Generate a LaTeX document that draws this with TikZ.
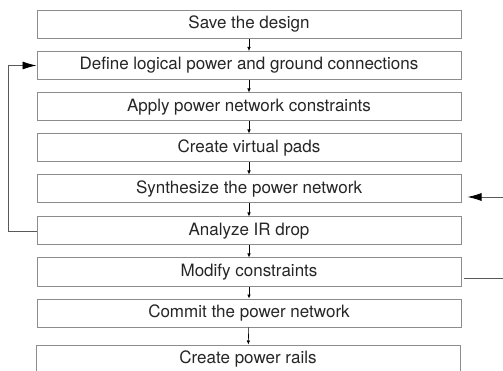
\documentclass[tikz,border=0pt]{standalone}
\usepackage{fontspec}
\setmainfont{TeX Gyre Heros}
\usepackage{tikz}
\usetikzlibrary{calc,arrows.meta}

\begin{document}
\begin{tikzpicture}[x=1pt,y=-1pt]
                      \tikzstyle{stepbox}=[draw=black!45,line width=1pt,fill=white,minimum width=424pt,minimum height=28pt,inner sep=0pt,text=black!85,font=\fontsize{17}{19}\selectfont]
                      \tikzstyle{flow}=[black,line width=0.6pt,-{Latex[length=4pt,width=3.5pt]}]
                      \tikzstyle{loop}=[black!65,line width=0.8pt]
                      \tikzstyle{bigtip}=[-{Latex[black,length=14pt,width=8pt]}]
                      \useasboundingbox (0,0) rectangle (503,371);
                      \clip (0,0) rectangle (503,371);
                      \node[stepbox] (a) at (249,24.5) {Save the design};
                      \node[stepbox] (b) at (249,65.5) {Define logical power and ground connections};
                      \node[stepbox] (c) at (249,107) {Apply power network constraints};
                      \node[stepbox] (d) at (249,148) {Create virtual pads};
                      \node[stepbox] (e) at (249,189) {Synthesize the power network};
                      \node[stepbox] (f) at (249,231) {Analyze IR drop};
                      \node[stepbox] (g) at (249,272) {Modify constraints};
                      \node[stepbox] (h) at (249,313) {Commit the power network};
                      \node[stepbox] (i) at (248,359) {Create power rails};
                      \draw[flow] (a) -- (b);
                      \draw[flow] (b) -- (c);
                      \draw[flow] (c) -- (d);
                      \draw[flow] (d) -- (e);
                      \draw[flow] (e) -- (f);
                      \draw[flow] (f) -- (g);
                      \draw[flow] (g) -- (h);
                      \draw[flow] (h) -- (i);
                      % loop back from the IR drop analysis
                      \coordinate (j) at (8,231);
                      \draw[loop,bigtip] (f.west) -- (j) |- (b.west);
                      % lines leaving the picture on the right
                      \coordinate (k) at (503,197);
                      \coordinate (l) at (503,278);
                      \draw[loop,bigtip] (k) -- ($(e.east)+(6,8)$);
                      \draw[loop] ($(g.east)+(2,6)$) -- (l);
\end{tikzpicture}
\end{document}
